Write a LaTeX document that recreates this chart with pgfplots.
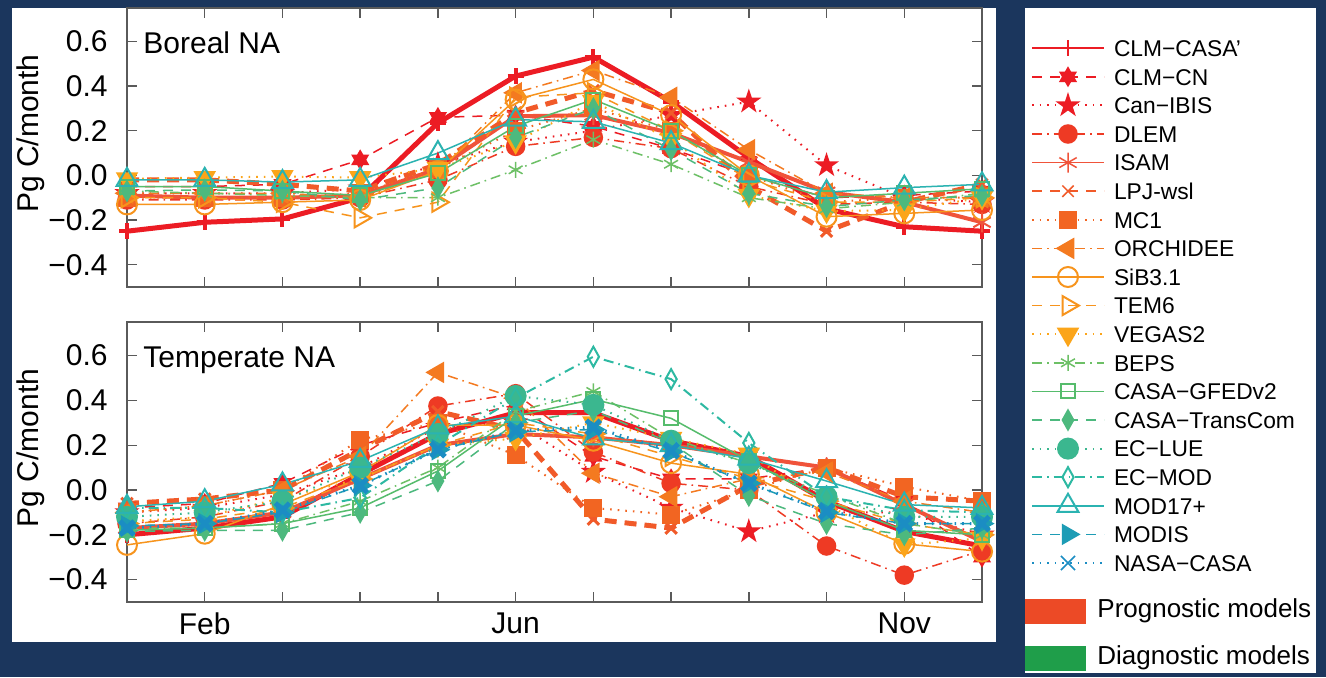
\documentclass[border=0pt]{standalone}
\usepackage{fontspec}
\setmainfont{Liberation Sans}
\usepackage{pgfplots}
\pgfplotsset{compat=1.18}
\usepackage{pgfplotstable}
\usetikzlibrary{plotmarks}

\definecolor{bg}{HTML}{1B365D}
\definecolor{axgray}{HTML}{5A5A5A}
\definecolor{c1}{HTML}{EC1C24}
\definecolor{c2}{HTML}{EC1C24}
\definecolor{c3}{HTML}{EC1C24}
\definecolor{c4}{HTML}{EE3A24}
\definecolor{c5}{HTML}{F0533A}
\definecolor{c6}{HTML}{F15A29}
\definecolor{c7}{HTML}{F26522}
\definecolor{c8}{HTML}{F47A20}
\definecolor{c9}{HTML}{F7941D}
\definecolor{c10}{HTML}{F7941D}
\definecolor{c11}{HTML}{FBA51A}
\definecolor{c12}{HTML}{6DC066}
\definecolor{c13}{HTML}{56BC6C}
\definecolor{c14}{HTML}{4DB97E}
\definecolor{c15}{HTML}{3BB78F}
\definecolor{c16}{HTML}{2DB9A2}
\definecolor{c17}{HTML}{2BB3B1}
\definecolor{c18}{HTML}{1D9CB5}
\definecolor{c19}{HTML}{1B8DC3}
\definecolor{prog}{HTML}{EC4A26}
\definecolor{diag}{HTML}{1F9E4A}

\pgfdeclareplotmark{hexstar}{%
  \pgfpathmoveto{\pgfqpointpolar{90}{\pgfplotmarksize}}%
  \pgfpathlineto{\pgfqpointpolar{120}{0.577\pgfplotmarksize}}%
  \pgfpathlineto{\pgfqpointpolar{150}{\pgfplotmarksize}}%
  \pgfpathlineto{\pgfqpointpolar{180}{0.577\pgfplotmarksize}}%
  \pgfpathlineto{\pgfqpointpolar{210}{\pgfplotmarksize}}%
  \pgfpathlineto{\pgfqpointpolar{240}{0.577\pgfplotmarksize}}%
  \pgfpathlineto{\pgfqpointpolar{270}{\pgfplotmarksize}}%
  \pgfpathlineto{\pgfqpointpolar{300}{0.577\pgfplotmarksize}}%
  \pgfpathlineto{\pgfqpointpolar{330}{\pgfplotmarksize}}%
  \pgfpathlineto{\pgfqpointpolar{0}{0.577\pgfplotmarksize}}%
  \pgfpathlineto{\pgfqpointpolar{30}{\pgfplotmarksize}}%
  \pgfpathlineto{\pgfqpointpolar{60}{0.577\pgfplotmarksize}}%
  \pgfpathclose\pgfusepathqfillstroke}
\pgfdeclareplotmark{pentstar}{%
  \pgfpathmoveto{\pgfqpointpolar{90}{\pgfplotmarksize}}%
  \pgfpathlineto{\pgfqpointpolar{126}{0.382\pgfplotmarksize}}%
  \pgfpathlineto{\pgfqpointpolar{162}{\pgfplotmarksize}}%
  \pgfpathlineto{\pgfqpointpolar{198}{0.382\pgfplotmarksize}}%
  \pgfpathlineto{\pgfqpointpolar{234}{\pgfplotmarksize}}%
  \pgfpathlineto{\pgfqpointpolar{270}{0.382\pgfplotmarksize}}%
  \pgfpathlineto{\pgfqpointpolar{306}{\pgfplotmarksize}}%
  \pgfpathlineto{\pgfqpointpolar{342}{0.382\pgfplotmarksize}}%
  \pgfpathlineto{\pgfqpointpolar{18}{\pgfplotmarksize}}%
  \pgfpathlineto{\pgfqpointpolar{54}{0.382\pgfplotmarksize}}%
  \pgfpathclose\pgfusepathqfillstroke}

\pgfplotsset{
  lthin/.style={line width=0.75pt},
  dsh/.style={dash pattern=on 5pt off 4pt},
  dtt/.style={dash pattern=on 0.8pt off 3pt},
  dshdt/.style={dash pattern=on 5pt off 2.5pt on 0.8pt off 2.5pt},
  thinleg/.style={legend image post style={line width=0.75pt, mark options={solid, line width=0.75pt}}},
  sCASA/.style={color=c1, solid, line width=2.5pt, mark=+, mark size=4pt, mark options={solid, line width=2pt}, thinleg},
  sCN/.style={color=c2, lthin, dsh, mark=hexstar, mark size=4.5pt, mark options={solid, fill=c2}},
  sIBIS/.style={color=c3, line width=1pt, dtt, mark=pentstar, mark size=5pt, mark options={solid, fill=c3}},
  sDLEM/.style={color=c4, lthin, dshdt, mark=*, mark size=4.5pt, mark options={solid, fill=c4}},
  sISAM/.style={color=c5, solid, line width=2pt, mark=asterisk, mark size=5pt, mark options={solid, line width=1pt}, thinleg},
  sLPJ/.style={color=c6, line width=2.5pt, dash pattern=on 6pt off 4pt, mark=x, mark size=4pt, mark options={solid, line width=1.5pt}, legend image post style={line width=0.75pt, dash pattern=on 5pt off 4pt, mark options={solid, line width=0.75pt}}},
  sMC1/.style={color=c7, line width=1pt, dtt, mark=square*, mark size=4pt, mark options={solid, fill=c7}},
  sORCH/.style={color=c8, lthin, dshdt, mark=triangle*, mark size=5.5pt, mark options={solid, rotate=90, fill=c8}},
  sSIB/.style={color=c9, lthin, solid, mark=o, mark size=5pt, mark options={solid, line width=1pt}},
  sTEM/.style={color=c10, lthin, dsh, mark=triangle, mark size=5.5pt, mark options={solid, rotate=-90, line width=1pt}},
  sVEG/.style={color=c11, line width=1pt, dtt, mark=triangle*, mark size=5.5pt, mark options={solid, rotate=180, fill=c11}},
  sBEPS/.style={color=c12, lthin, dshdt, mark=asterisk, mark size=4pt, mark options={solid}},
  sGFED/.style={color=c13, lthin, solid, mark=square, mark size=3.5pt, mark options={solid, fill=white, line width=1pt}},
  sTC/.style={color=c14, lthin, dsh, mark=diamond*, mark size=5pt, mark options={solid, xscale=0.75, fill=c14}},
  sLUE/.style={color=c15, line width=1pt, dtt, mark=*, mark size=5pt, mark options={solid, fill=c15}},
  sECMOD/.style={color=c16, line width=1pt, dshdt, mark=diamond, mark size=5pt, mark options={solid, xscale=0.75, fill=white, line width=1pt}},
  sMOD/.style={color=c17, lthin, solid, mark=triangle, mark size=6pt, mark options={solid, fill=white, line width=1pt}},
  sMODIS/.style={color=c18, lthin, dsh, mark=triangle*, mark size=5.5pt, mark options={solid, rotate=-90, fill=c18}},
  sNASA/.style={color=c19, line width=1.5pt, dtt, mark=x, mark size=5pt, mark options={solid, line width=2.5pt}, thinleg},
  common/.style={
    scale only axis, width=427.5pt, height=139.5pt, anchor=south west,
    xmin=1, xmax=12, ymin=-0.5, ymax=0.75, clip=false,
    xtick={1,...,12},
    ytick={-0.4,-0.2,0,0.2,0.4,0.6},
    yticklabels={−0.4,−0.2,0.0,0.2,0.4,0.6},
    tick align=inside, tick pos=both, major tick length=5pt,
    axis line style={draw=axgray, line width=0.7pt},
    tick style={draw=axgray, line width=0.7pt},
    tick label style={font=\fontsize{15}{18}\selectfont},
    yticklabel style={inner sep=0pt, xshift=-9.5pt},
    xticklabel style={inner sep=0pt, yshift=-5pt},
    ylabel={Pg C/month},
    ylabel style={font=\fontsize{15}{18}\selectfont, at={(axis description cs:-0.1125,0.55)}, anchor=center},
  },
}

\pgfplotstableread{
m casa clmcn ibis dlem isam lpj mc1 orch sib tem veg beps gfed tc mod17
1 -0.25 -0.05 -0.08 -0.11 -0.09 -0.02 -0.10 -0.08 -0.13 -0.10 -0.015 -0.07 -0.05 -0.07 -0.02
2 -0.21 -0.05 -0.08 -0.11 -0.10 -0.02 -0.10 -0.08 -0.13 -0.10 -0.01 -0.08 -0.05 -0.065 -0.02
3 -0.195 -0.04 -0.08 -0.11 -0.10 -0.04 -0.10 -0.08 -0.12 -0.12 -0.005 -0.09 -0.07 -0.07 -0.03
4 -0.10 0.07 -0.06 -0.10 -0.09 -0.07 -0.08 -0.10 -0.11 -0.19 -0.01 -0.10 -0.09 -0.11 -0.02
5 0.235 0.26 0.05 -0.02 0.03 0.05 0.03 0.02 0.02 -0.12 0.03 -0.10 0.01 -0.055 0.10
6 0.445 0.27 0.15 0.13 0.265 0.28 0.20 0.37 0.34 0.35 0.15 0.025 0.22 0.17 0.25
7 0.53 0.22 0.20 0.17 0.27 0.38 0.30 0.47 0.43 0.37 0.33 0.16 0.34 0.30 0.24
8 0.33 0.12 0.27 0.12 0.19 0.28 0.20 0.35 0.27 0.20 0.16 0.05 0.20 0.115 0.145
9 0.08 0.0 0.33 -0.05 0.06 -0.05 0.0 0.115 0.0 -0.02 -0.09 -0.10 0.0 -0.08 0.0
10 -0.15 -0.10 0.045 -0.13 -0.075 -0.25 -0.12 -0.08 -0.185 -0.12 -0.16 -0.15 -0.10 -0.14 -0.075
11 -0.23 -0.09 -0.10 -0.12 -0.12 -0.12 -0.10 -0.10 -0.17 -0.12 -0.155 -0.12 -0.08 -0.11 -0.055
12 -0.25 -0.07 -0.12 -0.13 -0.21 -0.04 -0.10 -0.10 -0.155 -0.10 -0.10 -0.08 -0.06 -0.09 -0.04
}\boreal

\pgfplotstableread{
m casa clmcn ibis dlem isam lpj mc1 orch sib tem veg beps gfed tc lue ecmod mod17 modis nasa
1 -0.20 -0.08 -0.10 -0.15 -0.17 -0.06 -0.10 -0.10 -0.245 -0.15 -0.14 -0.17 -0.18 -0.185 -0.12 -0.08 -0.075 -0.16 -0.17
2 -0.17 -0.06 -0.08 -0.12 -0.15 -0.04 -0.07 -0.07 -0.195 -0.13 -0.12 -0.17 -0.17 -0.18 -0.10 -0.08 -0.05 -0.15 -0.15
3 -0.12 0.03 -0.02 -0.05 -0.10 0.0 0.0 0.0 -0.065 -0.08 -0.035 -0.15 -0.15 -0.18 -0.05 -0.10 0.025 -0.10 -0.09
4 0.07 0.20 0.10 0.15 0.05 0.18 0.225 0.15 0.08 0.05 0.05 -0.05 -0.08 -0.10 0.10 -0.035 0.13 0.02 0.02
5 0.25 0.30 0.28 0.375 0.20 0.35 0.30 0.525 0.29 0.20 0.20 0.10 0.085 0.04 0.25 0.20 0.28 0.18 0.18
6 0.345 0.38 0.30 0.43 0.25 0.27 0.155 0.41 0.29 0.30 0.23 0.35 0.33 0.30 0.42 0.41 0.33 0.26 0.265
7 0.345 0.15 0.08 0.17 0.235 -0.13 -0.08 0.075 0.22 0.25 0.30 0.44 0.405 0.355 0.38 0.595 0.23 0.27 0.28
8 0.22 0.05 -0.08 0.03 0.20 -0.17 -0.11 -0.03 0.12 0.15 0.23 0.23 0.32 0.21 0.22 0.495 0.20 0.17 0.175
9 0.15 0.05 -0.185 0.0 0.15 0.02 0.0 0.05 0.07 0.05 0.16 0.12 0.13 -0.025 0.12 0.21 0.14 0.03 0.03
10 -0.05 0.10 -0.10 -0.25 0.10 0.10 0.10 0.08 -0.10 -0.05 -0.065 -0.02 -0.05 -0.15 -0.03 -0.03 0.04 -0.10 -0.095
11 -0.185 -0.05 -0.10 -0.38 -0.065 -0.03 0.015 -0.05 -0.24 -0.15 -0.245 -0.15 -0.18 -0.20 -0.12 -0.09 -0.065 -0.15 -0.15
12 -0.25 -0.30 -0.20 -0.27 -0.23 -0.05 -0.05 -0.10 -0.275 -0.20 -0.215 -0.20 -0.20 -0.17 -0.12 -0.10 -0.08 -0.15 -0.15
}\temperate

\begin{document}
\begin{tikzpicture}
\fill[bg] (0pt,0pt) rectangle (663pt,338.5pt);
\fill[white] (6pt,17.5pt) rectangle (498pt,334.5pt);
\fill[white] (512.5pt,2pt) rectangle (658pt,334.5pt);

\begin{axis}[common, at={(63.5pt,195pt)}, xticklabels={}]
\addplot[sCASA] table[x=m,y=casa]{\boreal};
\addplot[sCN] table[x=m,y=clmcn]{\boreal};
\addplot[sIBIS] table[x=m,y=ibis]{\boreal};
\addplot[sDLEM] table[x=m,y=dlem]{\boreal};
\addplot[sISAM] table[x=m,y=isam]{\boreal};
\addplot[sLPJ] table[x=m,y=lpj]{\boreal};
\addplot[sMC1] table[x=m,y=mc1]{\boreal};
\addplot[sORCH] table[x=m,y=orch]{\boreal};
\addplot[sSIB] table[x=m,y=sib]{\boreal};
\addplot[sTEM] table[x=m,y=tem]{\boreal};
\addplot[sVEG] table[x=m,y=veg]{\boreal};
\addplot[sBEPS] table[x=m,y=beps]{\boreal};
\addplot[sGFED] table[x=m,y=gfed]{\boreal};
\addplot[sTC] table[x=m,y=tc]{\boreal};
\addplot[sMOD] table[x=m,y=mod17]{\boreal};
\node[anchor=base west, inner sep=0pt, font=\fontsize{15}{18}\selectfont] at (rel axis cs:0.0187,0.8387) {Boreal NA};
\end{axis}

\begin{axis}[common, at={(63.5pt,37.5pt)}, height=140pt,
  xticklabels={,Feb,,,,Jun,,,,,Nov,},
  legend image code/.code={\draw[mark repeat=2,mark phase=2] plot coordinates {(0pt,0pt) (18pt,0pt) (36pt,0pt)};},
  legend cell align=left,
  legend style={draw=none, fill=none, inner sep=0pt, outer sep=0pt,
    at={(axis description cs:1.0573,2.029)}, anchor=north west,
    font=\fontsize{11.4}{13}\selectfont, row sep=0pt,
    nodes={inner sep=0pt, text height=11.3pt, text depth=3pt},
    /tikz/every odd column/.append style={column sep=4.5pt}},
]
\addplot[sCASA] table[x=m,y=casa]{\temperate}; \addlegendentry{CLM−CASA’}
\addplot[sCN] table[x=m,y=clmcn]{\temperate}; \addlegendentry{CLM−CN}
\addplot[sIBIS] table[x=m,y=ibis]{\temperate}; \addlegendentry{Can−IBIS}
\addplot[sDLEM] table[x=m,y=dlem]{\temperate}; \addlegendentry{DLEM}
\addplot[sISAM] table[x=m,y=isam]{\temperate}; \addlegendentry{ISAM}
\addplot[sLPJ] table[x=m,y=lpj]{\temperate}; \addlegendentry{LPJ-wsl}
\addplot[sMC1] table[x=m,y=mc1]{\temperate}; \addlegendentry{MC1}
\addplot[sORCH] table[x=m,y=orch]{\temperate}; \addlegendentry{ORCHIDEE}
\addplot[sSIB] table[x=m,y=sib]{\temperate}; \addlegendentry{SiB3.1}
\addplot[sTEM] table[x=m,y=tem]{\temperate}; \addlegendentry{TEM6}
\addplot[sVEG] table[x=m,y=veg]{\temperate}; \addlegendentry{VEGAS2}
\addplot[sBEPS] table[x=m,y=beps]{\temperate}; \addlegendentry{BEPS}
\addplot[sGFED] table[x=m,y=gfed]{\temperate}; \addlegendentry{CASA−GFEDv2}
\addplot[sTC] table[x=m,y=tc]{\temperate}; \addlegendentry{CASA−TransCom}
\addplot[sLUE] table[x=m,y=lue]{\temperate}; \addlegendentry{EC−LUE}
\addplot[sECMOD] table[x=m,y=ecmod]{\temperate}; \addlegendentry{EC−MOD}
\addplot[sMOD] table[x=m,y=mod17]{\temperate}; \addlegendentry{MOD17+}
\addplot[sMODIS] table[x=m,y=modis]{\temperate}; \addlegendentry{MODIS}
\addplot[sNASA] table[x=m,y=nasa]{\temperate}; \addlegendentry{NASA−CASA}
\node[anchor=base west, inner sep=0pt, font=\fontsize{15}{18}\selectfont] at (rel axis cs:0.0187,0.839) {Temperate NA};
\end{axis}

\fill[prog] (512.5pt,26.5pt) rectangle (543pt,39pt);
\fill[diag] (512.5pt,3pt) rectangle (543pt,15.5pt);
\node[anchor=base west, inner sep=0pt, font=\fontsize{13}{15}\selectfont] at (548.5pt,30pt) {Prognostic models};
\node[anchor=base west, inner sep=0pt, font=\fontsize{13}{15}\selectfont] at (548.5pt,6.5pt) {Diagnostic models};
\end{tikzpicture}
\end{document}
